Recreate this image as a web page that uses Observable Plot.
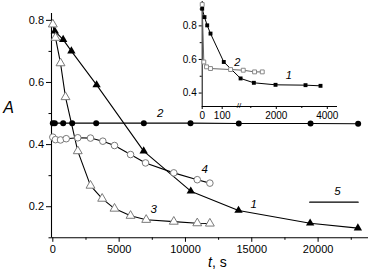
<!DOCTYPE html>
<html>
<head>
<meta charset="utf-8">
<script src="https://cdn.jsdelivr.net/npm/d3@7"></script>
<script src="https://cdn.jsdelivr.net/npm/@observablehq/plot@0.6"></script>
<style>
  html, body { margin: 0; padding: 0; background: #fff; }
  #wrap { position: relative; width: 372px; height: 275px; overflow: hidden; }
  #inset { position: absolute; left: 170px; top: 0px; }
  svg { display: block; }
</style>
</head>
<body>
<div id="wrap"><div id="main"></div><div id="inset"></div></div>
<script>
// ---- Main chart data (t in s, A) ----
const s1T = [150, 780, 1400, 3300, 6850, 10400, 14000, 19400, 23000];
const s1A = [0.765, 0.738, 0.701, 0.592, 0.379, 0.250, 0.188, 0.147, 0.131];

const s2T = [0, 150, 780, 1460, 3270, 6860, 10380, 14020, 19430, 23020];
const s2A = [0.469, 0.469, 0.469, 0.469, 0.469, 0.469, 0.469, 0.468, 0.468, 0.467];

const s3T = [0, 200, 580, 955, 1880, 2840, 3720, 4650, 5860, 7040, 9120, 10890, 11840];
const s3A = [0.787, 0.744, 0.662, 0.553, 0.379, 0.268, 0.226, 0.194, 0.171, 0.158, 0.152, 0.147, 0.146];

const s4T = [0, 200, 580, 1010, 1880, 2840, 3770, 4650, 5860, 6990, 9120, 10890, 11840];
const s4A = [0.424, 0.416, 0.415, 0.419, 0.422, 0.421, 0.411, 0.397, 0.368, 0.341, 0.309, 0.287, 0.276];

const line5T = [19370, 23020];
const line5A = [0.2146, 0.2146];

const curveLabels = ["1", "2", "3", "4", "5"];
const labelT = [15150, 8100, 7610, 11460, 21450];
const labelA = [0.209, 0.500, 0.193, 0.319, 0.249];

const xMajorTicks = [0, 5000, 10000, 15000, 20000];
const xMinorTicks = [2500, 7500, 12500, 17500, 22500];
const yMajorTicks = [0.2, 0.4, 0.6, 0.8];
const yMinorTicks = [0.1, 0.3, 0.5, 0.7];

// ---- Inset data ----
const i1T = [0, 11.5, 25, 41.6, 108, 600, 1120, 1970, 3146, 3734];
const i1A = [0.902, 0.852, 0.803, 0.754, 0.585, 0.487, 0.461, 0.449, 0.447, 0.443];

const i2T = [0, 8, 21.6, 41.6, 142, 705, 1148, 1450];
const i2A = [0.927, 0.585, 0.556, 0.546, 0.540, 0.536, 0.526, 0.526];

const insetLabels = ["1", "2"];
const insetLabelT = [2490, 176];
const insetLabelA = [0.507, 0.585];

const insetXTicks = [0, 100, 2000, 4000];
const insetXMinor = [1000, 3000];
const insetYTicks = [0.4, 0.6, 0.8];
const insetYMinor = [0.5, 0.7, 0.9];

// broken time axis of the inset: [0, 180] then [560, 4400]
const breakLo = 180, breakHi = 560, insetTMax = 4400;

const font = "'Liberation Sans', Arial, Helvetica, sans-serif";
const pts = (T, A) => T.map((t, i) => ({t, a: A[i]}));

const S1 = pts(s1T, s1A), S2 = pts(s2T, s2A), S3 = pts(s3T, s3A), S4 = pts(s4T, s4A);
const L5 = pts(line5T, line5A);
const LB = curveLabels.map((s, i) => ({s, t: labelT[i], a: labelA[i]}));

const xDom = [-100, 23800], yDom = [0.1, 0.822];

const main = Plot.plot({
  width: 372, height: 275,
  marginLeft: 51, marginRight: 4, marginTop: 13, marginBottom: 37.7,
  x: {domain: xDom},
  y: {domain: yDom},
  style: {fontFamily: font, fontSize: "11px", color: "black", background: "transparent", overflow: "visible"},
  marks: [
    Plot.ruleY([yDom[0]], {stroke: "black", strokeWidth: 1.1}),
    Plot.ruleX([xDom[0]], {stroke: "black", strokeWidth: 1.1}),
    Plot.axisX(xMajorTicks, {tickSize: 4.5, tickPadding: 3, tickFormat: d => String(d), fontSize: 11, label: null}),
    Plot.axisX(xMinorTicks, {tickSize: 2.5, tickFormat: () => "", label: null}),
    Plot.axisY(yMajorTicks, {tickSize: 5, tickPadding: 2.5, tickFormat: d3.format(".1f"), fontSize: 11, label: null}),
    Plot.axisY(yMinorTicks, {tickSize: 2.5, tickFormat: () => "", label: null}),
    Plot.line(S2, {x: "t", y: "a", stroke: "black", strokeWidth: 1.1}),
    Plot.line(S1, {x: "t", y: "a", stroke: "black", strokeWidth: 1.1}),
    Plot.line(S4, {x: "t", y: "a", stroke: "black", strokeWidth: 1.1}),
    Plot.line(S3, {x: "t", y: "a", stroke: "black", strokeWidth: 1.1}),
    Plot.line(L5, {x: "t", y: "a", stroke: "black", strokeWidth: 1.3}),
    Plot.dot(S2, {x: "t", y: "a", fill: "black", r: 3}),
    Plot.dot(S1, {x: "t", y: "a", fill: "black", symbol: "triangle", r: 3.1}),
    Plot.dot(S4, {x: "t", y: "a", fill: "white", stroke: "#7a7a7a", strokeWidth: 1, r: 3.3}),
    Plot.dot(S3, {x: "t", y: "a", fill: "white", stroke: "#7a7a7a", strokeWidth: 1, symbol: "triangle", r: 3.3}),
    Plot.text(LB, {x: "t", y: "a", text: "s", fontStyle: "italic", fontSize: 11.5, fill: "black"}),
    Plot.text(["A"], {frameAnchor: "left", y: [0.519], dx: -43, fontStyle: "italic", fontSize: 16, textAnchor: "middle", fill: "black"}),
    Plot.text(["t"], {frameAnchor: "bottom", x: [12000], dy: 29.5, fontStyle: "italic", fontSize: 14, textAnchor: "end", fill: "black"}),
    Plot.text([", s"], {frameAnchor: "bottom", x: [12000], dy: 29.5, fontSize: 14, textAnchor: "start", fill: "black"})
  ]
});
document.getElementById("main").appendChild(main);

// ---- Inset ----
const I1 = pts(i1T, i1A), I2 = pts(i2T, i2A);
const ILB = insetLabels.map((s, i) => ({s, t: insetLabelT[i], a: insetLabelA[i]}));
// scale transform: compress the broken time axis into one continuous display coordinate
const segA = 36, gap = 1.4, segB = 98;
const brk = t => t <= breakLo ? t / breakLo * segA
  : t < breakHi ? segA + (t - breakLo) / (breakHi - breakLo) * gap
  : segA + gap + (t - breakHi) / (insetTMax - breakHi) * segB;
const iyDom = [0.32, 0.945];

const inset = Plot.plot({
  width: 175, height: 125,
  marginLeft: 31.7, marginRight: 8, marginTop: 1, marginBottom: 19,
  x: {transform: brk, domain: [0, segA + gap + segB]},
  y: {domain: iyDom},
  style: {fontFamily: font, fontSize: "10px", color: "black", background: "transparent", overflow: "visible"},
  marks: [
    Plot.ruleY([iyDom[0]], {stroke: "black", strokeWidth: 1}),
    Plot.ruleX([0], {stroke: "black", strokeWidth: 1}),
    Plot.axisX(insetXTicks, {tickSize: 3, tickPadding: 2.5, tickFormat: d => String(d), fontSize: 10, label: null}),
    Plot.axisX(insetXMinor, {tickSize: 2, tickFormat: () => "", label: null}),
    Plot.axisY(insetYTicks, {tickSize: 3, tickPadding: 2.5, tickFormat: d3.format(".1f"), fontSize: 10, label: null}),
    Plot.axisY(insetYMinor, {tickSize: 2, tickFormat: () => "", label: null}),
    Plot.text(["//"], {frameAnchor: "bottom", x: [(breakLo + breakHi) / 2], dy: 1, fontSize: 8, textAnchor: "middle", fill: "black"}),
    Plot.line(I1, {x: "t", y: "a", stroke: "black", strokeWidth: 1}),
    Plot.line(I2, {x: "t", y: "a", stroke: "#666", strokeWidth: 1}),
    Plot.dot(I1, {x: "t", y: "a", fill: "black", symbol: "square", r: 2.2}),
    Plot.dot(I2, {x: "t", y: "a", fill: "white", stroke: "#888", strokeWidth: 1, symbol: "square", r: 2.2}),
    Plot.text(ILB, {x: "t", y: "a", text: "s", fontStyle: "italic", fontSize: 11, fill: "black"})
  ]
});
document.getElementById("inset").appendChild(inset);
</script>
</body>
</html>
